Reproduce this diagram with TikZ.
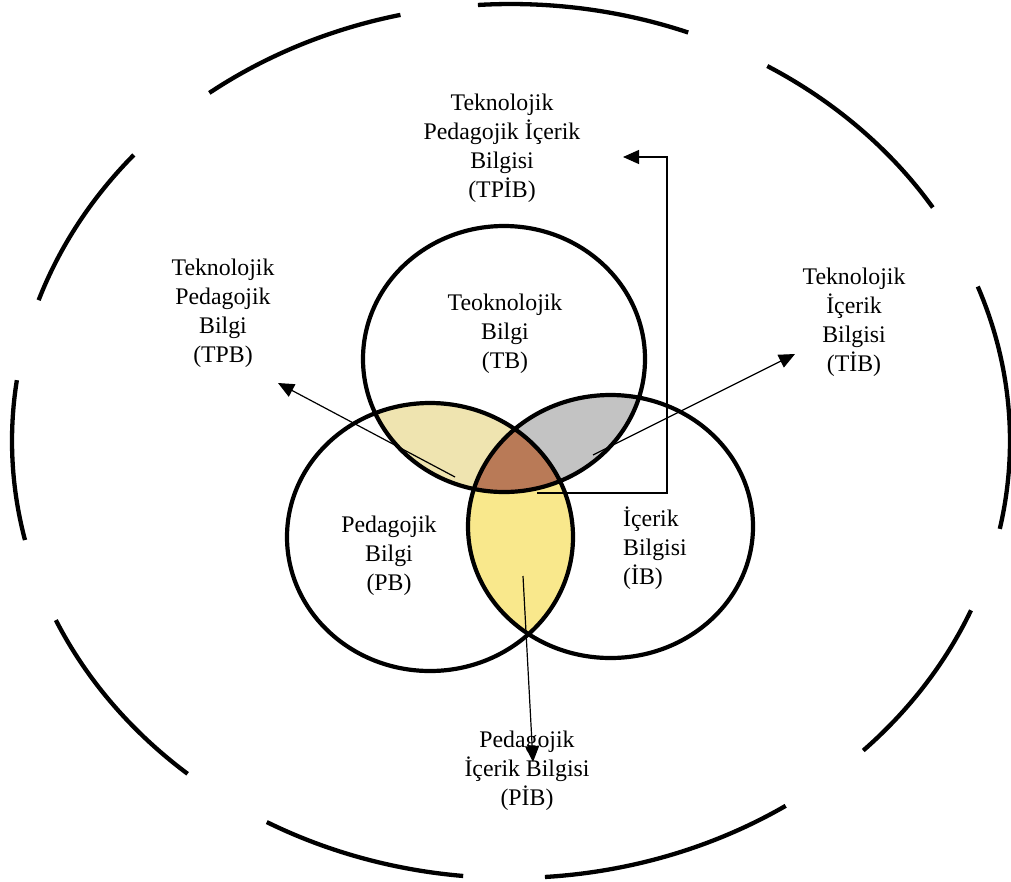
\documentclass[tikz,border=0pt]{standalone}
\usepackage{fontspec}
\setmainfont{Liberation Serif}
\usetikzlibrary{arrows.meta}
\definecolor{tanfill}{HTML}{EFE4B0}
\definecolor{grayfill}{HTML}{C3C3C3}
\definecolor{brownfill}{HTML}{B97A57}
\definecolor{yellowfill}{HTML}{F9E88C}
\begin{document}
\begin{tikzpicture}[x=1pt,y=1pt,
  ring/.style={line width=4.3pt},
  venn/.style={line width=4.2pt},
  lbl/.style={align=center,inner sep=0pt,font=\fontsize{23.8}{29}\selectfont},
  pointer/.style={line width=1.2pt,-{Triangle[length=16pt,width=14pt]}}]
\useasboundingbox (0,0) rectangle (1011,-881);
% fills
\begin{scope}
  \clip (504,-359) ellipse [x radius=141, y radius=133];
  \fill[tanfill] (430,-537) ellipse [x radius=143, y radius=134];
  \fill[grayfill] (610.5,-526.5) ellipse [x radius=142.5, y radius=131.5];
\end{scope}
\begin{scope}
  \clip (430,-537) ellipse [x radius=143, y radius=134];
  \fill[yellowfill] (610.5,-526.5) ellipse [x radius=142.5, y radius=131.5];
  \clip (610.5,-526.5) ellipse [x radius=142.5, y radius=131.5];
  \fill[brownfill] (504,-359) ellipse [x radius=141, y radius=133];
\end{scope}
% circle outlines
\draw[venn] (504,-359) ellipse [x radius=141, y radius=133];
\draw[venn] (430,-537) ellipse [x radius=143, y radius=134];
\draw[venn] (610.5,-526.5) ellipse [x radius=142.5, y radius=131.5];
% outer dashed ellipse
\foreach \a/\b in {69.2/93.8, 32.3/59.1, -11.6/20.7, -45.1/-22.8, -86.1/-56.6,
  -119.3/-95.5, -155.8/-130.4, -188/-166.9, -220.9/-198.8, -257.2/-232.8}
  \draw[ring] (511,-441) ++(\a:499 and 437) arc[start angle=\a, end angle=\b, x radius=499, y radius=437];
% labels
\node[lbl] (tpib) at (502,-148) {Teknolojik\\Pedagojik İçerik\\Bilgisi\\(TPİB)};
\node[lbl] (tpb) at (223,-313) {Teknolojik\\Pedagojik\\Bilgi\\(TPB)};
\node[lbl] (tib) at (854,-322) {Teknolojik\\İçerik\\Bilgisi\\(TİB)};
\node[lbl] (tb) at (505,-334) {Teoknolojik\\Bilgi\\(TB)};
\node[lbl] (pb) at (389,-556) {Pedagojik\\Bilgi\\(PB)};
\node[lbl,align=left,anchor=west] (ib) at (623,-548) {İçerik\\Bilgisi\\(İB)};
\node[lbl] (pib) at (527,-771) {Pedagojik\\İçerik Bilgisi\\(PİB)};
% connector points
\coordinate (tpbS) at (455,-477);
\coordinate (tpbE) at (278,-383);
\coordinate (tibS) at (593,-455);
\coordinate (tibE) at (795,-354);
\coordinate (pibS) at (523,-576);
\coordinate (pibE) at (533,-762);
\coordinate (tpibS) at (537,-493);
\coordinate (tpibC) at (667,-157);
\coordinate (tpibE) at (623,-157);
% connectors
\draw[pointer] (tpbS) -- (tpbE);
\draw[pointer] (tibS) -- (tibE);
\draw[pointer] (pibS) -- (pibE);
\draw[pointer] (tpibS) -| (tpibC) -- (tpibE);
\end{tikzpicture}
\end{document}
